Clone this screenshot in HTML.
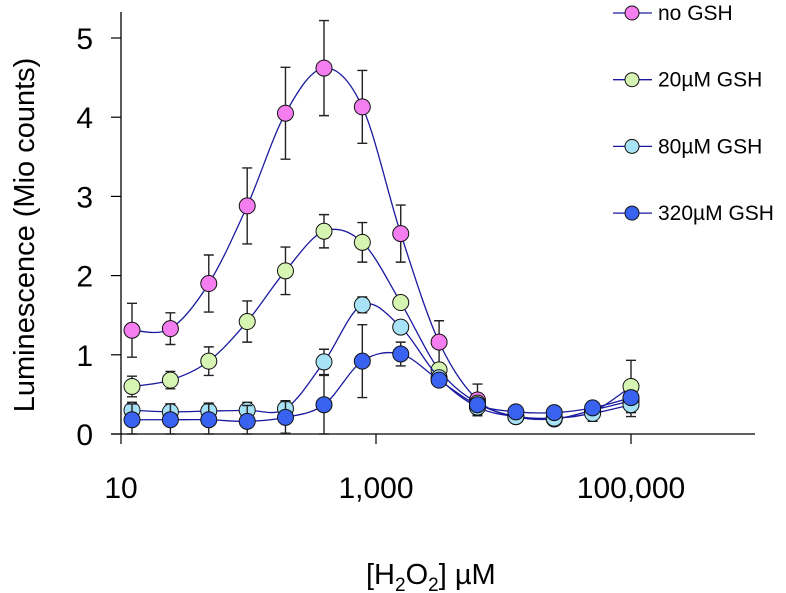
<!DOCTYPE html>
<html><head><meta charset="utf-8"><style>
body{margin:0;background:#fff;}
svg{display:block;font-family:"Liberation Sans",sans-serif;}
</style></head><body>
<svg id="chart" width="786" height="593"></svg>
<script>
const xValues=[12.2,24.4,48.8,97.7,195,391,781,1563,3125,6250,12500,25000,50000,100000];
const seriesNames=["no GSH","20µM GSH","80µM GSH","320µM GSH"];
const noGsh=[1.31,1.33,1.90,2.88,4.05,4.62,4.13,2.53,1.16,0.43,0.22,0.19,0.30,0.42];
const noGshErr=[0.34,0.2,0.36,0.48,0.58,0.6,0.46,0.36,0.27,0.2,0.05,0.05,0.05,0.05];
const gsh20=[0.60,0.68,0.92,1.42,2.06,2.56,2.42,1.66,0.81,0.39,0.22,0.20,0.28,0.60];
const gsh20Err=[0.13,0.11,0.18,0.26,0.30,0.21,0.25,0.05,0.05,0.05,0.05,0.05,0.05,0.33];
const gsh80=[0.30,0.28,0.29,0.30,0.32,0.91,1.63,1.35,0.71,0.34,0.22,0.20,0.26,0.37];
const gsh80Err=[0.1,0.1,0.1,0.1,0.1,0.16,0.1,0.05,0.05,0.1,0.05,0.05,0.1,0.15];
const gsh320=[0.18,0.18,0.18,0.16,0.21,0.37,0.92,1.01,0.68,0.37,0.28,0.27,0.33,0.46];
const gsh320Err=[0.2,0.2,0.2,0.2,0.2,0.37,0.46,0.15,0.08,0.05,0.05,0.05,0.05,0.05];
const yTicks=[0,1,2,3,4,5];
const xTicks=[10,1000,100000];
const xTickLabels=["10","1,000","100,000"];

const svg=document.getElementById('chart');
const NS="http://www.w3.org/2000/svg";
const X0=121,PXD=127.5,Y0=434,PXU=79.2;
function xs(v){return X0+(Math.log10(v)-1)*PXD;}
function ys(v){return Y0-v*PXU;}
function mk(tag,attrs,parent){const e=document.createElementNS(NS,tag);for(const k in attrs)e.setAttribute(k,attrs[k]);(parent||svg).appendChild(e);return e;}

let ax=mk('line',{x1:X0,y1:12,x2:X0,y2:Y0,stroke:'#000','stroke-width':1.3});


let bx=mk('line',{x1:X0-10,y1:Y0,x2:755,y2:Y0,stroke:'#000','stroke-width':1.3});


yTicks.forEach(t=>{
  const tl=mk('line',{x1:X0-10,y1:ys(t),x2:X0,y2:ys(t),stroke:'#000','stroke-width':1.2});
  
  
  const tx=mk('text',{x:93,y:ys(t)+11,'text-anchor':'end','font-size':30});
  tx.textContent=t;
  
  
});
xTicks.forEach((t,i)=>{
  const tl=mk('line',{x1:xs(t),y1:Y0,x2:xs(t),y2:Y0+10,stroke:'#000','stroke-width':1.2});
  
  
  const tx=mk('text',{x:xs(t),y:498,'text-anchor':'middle','font-size':30});
  tx.textContent=xTickLabels[i];
  
  
});
let yt=mk('text',{x:0,y:0,'text-anchor':'middle','font-size':29,transform:'translate(34,235) rotate(-90)'});
yt.textContent='Luminescence (Mio counts)';


let xt=mk('text',{x:366,y:584,'text-anchor':'start','font-size':29});
xt.innerHTML='[H<tspan font-size="19" dy="7">2</tspan><tspan dy="-7">O</tspan><tspan font-size="19" dy="7">2</tspan><tspan dy="-7">] µM</tspan>';



const series=[[noGsh,noGshErr,'#f47ef0'],[gsh20,gsh20Err,'#d6f5b2'],[gsh80,gsh80Err,'#a8e2f6'],[gsh320,gsh320Err,'#3a62f0']];
function pathFor(vals){
  const p=vals.map((v,i)=>[xs(xValues[i]),ys(v)]);
  let d='M'+p[0][0]+','+p[0][1];
  for(let i=0;i<p.length-1;i++){
    const p0=p[i-1]||p[i],p1=p[i],p2=p[i+1],p3=p[i+2]||p2;
    const c1=[p1[0]+(p2[0]-p0[0])/6,p1[1]+(p2[1]-p0[1])/6];
    const c2=[p2[0]-(p3[0]-p1[0])/6,p2[1]-(p3[1]-p1[1])/6];
    d+=` C${c1[0]},${c1[1]} ${c2[0]},${c2[1]} ${p2[0]},${p2[1]}`;
  }
  return d;
}
series.forEach((s,si)=>{
  const g=mk('g',{});
  
  
  s[0].forEach((v,i)=>{
    const x=xs(xValues[i]),e=s[1][i];
    const el=mk('path',{d:`M${x},${ys(v+e)}V${ys(Math.max(0,v-e))}M${x-5},${ys(v+e)}h10M${x-5},${ys(Math.max(0,v-e))}h10`,stroke:'#222','stroke-width':1.4,fill:'none'},g);
    
    
  });
  const ln=mk('path',{d:pathFor(s[0]),stroke:'#1a1aa0','stroke-width':1.3,fill:'none'},g);
  
  
  s[0].forEach((v,i)=>{
    const c=mk('circle',{cx:xs(xValues[i]),cy:ys(v),r:8,fill:s[2],stroke:'#111','stroke-width':1},g);
    
    
  });
  const ly=13+si*66.7;
  const lg=mk('g',{});
  
  
  mk('line',{x1:613,y1:ly,x2:652,y2:ly,stroke:'#1a1aa0','stroke-width':1.3},lg);
  mk('circle',{cx:632,cy:ly,r:7,fill:s[2],stroke:'#111','stroke-width':1},lg);
  const t=mk('text',{x:658,y:ly+7,'font-size':21},lg);
  t.textContent=seriesNames[si];
});
</script>
</body></html>
